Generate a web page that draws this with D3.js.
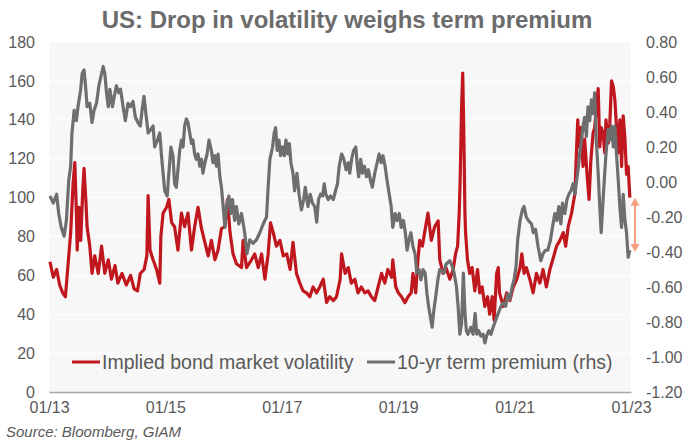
<!DOCTYPE html>
<html>
<head>
<meta charset="utf-8">
<script src="https://cdn.jsdelivr.net/npm/d3@7"></script>
<style>
  body { margin: 0; background: #fff; }
  #chart { width: 684px; height: 441px; }
  text { font-family: "Liberation Sans", Arial, sans-serif; }
</style>
</head>
<body>
<div id="chart"></div>
<script>
const title = 'US: Drop in volatility weighs term premium';
const source = 'Source: Bloomberg, GIAM';
const seriesNames = ['Implied bond market volatility', '10-yr term premium (rhs)'];

// implied bond market volatility (lhs)
const volDates = [
  '2013-01-07','2013-01-28','2013-02-18','2013-03-09','2013-03-28','2013-04-14','2013-04-28','2013-05-17','2013-06-01','2013-06-12',
  '2013-06-22','2013-06-27','2013-07-08','2013-07-19','2013-08-01','2013-08-09','2013-08-20','2013-08-28','2013-09-14','2013-09-28',
  '2013-10-15','2013-11-06','2013-11-27','2013-12-17','2014-01-08','2014-01-28','2014-02-19','2014-03-09','2014-04-04','2014-05-01',
  '2014-05-28','2014-06-19','2014-07-10','2014-07-28','2014-08-21','2014-09-07','2014-09-15','2014-09-27','2014-10-16','2014-11-07',
  '2014-11-27','2014-12-04','2014-12-18','2015-01-09','2015-01-23','2015-02-10','2015-02-28','2015-03-21','2015-04-12','2015-05-02',
  '2015-05-23','2015-06-14','2015-07-04','2015-07-25','2015-08-16','2015-09-06','2015-09-27','2015-10-17','2015-11-08','2015-11-28',
  '2015-12-19','2016-01-10','2016-01-26','2016-02-11','2016-03-01','2016-03-22','2016-04-23','2016-05-03','2016-05-24','2016-06-25',
  '2016-07-15','2016-08-06','2016-08-27','2016-09-17','2016-10-07','2016-10-22','2016-11-08','2016-11-28','2016-12-20','2017-01-10',
  '2017-02-01','2017-02-22','2017-03-12','2017-04-03','2017-04-24','2017-05-14','2017-06-05','2017-06-26','2017-07-16','2017-08-07',
  '2017-08-27','2017-09-18','2017-10-09','2017-10-28','2017-11-20','2017-12-10','2018-01-02','2018-01-11','2018-02-02','2018-02-22',
  '2018-03-13','2018-04-04','2018-04-24','2018-05-15','2018-06-06','2018-06-26','2018-07-17','2018-08-07','2018-08-28','2018-09-19',
  '2018-10-09','2018-10-28','2018-11-21','2018-11-28','2018-12-17','2019-01-02','2019-01-22','2019-02-13','2019-03-04','2019-03-24',
  '2019-04-04','2019-04-21','2019-05-05','2019-05-16','2019-06-02','2019-06-16','2019-07-07','2019-07-28','2019-08-18','2019-09-09',
  '2019-09-19','2019-10-10','2019-10-28','2019-11-21','2019-12-12','2019-12-27','2020-01-09','2020-01-19','2020-01-25','2020-02-03',
  '2020-02-10','2020-02-16','2020-02-24','2020-02-28','2020-03-11','2020-03-25','2020-04-09','2020-04-26','2020-05-13','2020-05-27',
  '2020-06-11','2020-06-28','2020-07-15','2020-07-28','2020-08-13','2020-08-25','2020-09-10','2020-09-20','2020-09-28','2020-10-21',
  '2020-11-12','2020-12-02','2020-12-23','2021-01-14','2021-02-04','2021-02-15','2021-03-01','2021-03-15','2021-04-06','2021-04-27',
  '2021-05-18','2021-06-08','2021-06-28','2021-07-19','2021-08-10','2021-08-28','2021-09-21','2021-10-12','2021-11-02','2021-11-17',
  '2021-12-03','2021-12-24','2022-01-14','2022-01-25','2022-02-01','2022-02-09','2022-02-21','2022-03-06','2022-03-16','2022-04-03',
  '2022-04-13','2022-04-24','2022-05-08','2022-05-18','2022-05-28','2022-06-09','2022-06-19','2022-06-28','2022-07-10','2022-07-20',
  '2022-07-28','2022-08-11','2022-08-21','2022-09-01','2022-09-12','2022-09-22','2022-10-02','2022-10-13','2022-10-23','2022-11-03',
  '2022-11-13','2022-11-24','2022-12-04','2022-12-14','2022-12-25'
];
const volValues = [
  67,59,63,55,51,49,63,82,107,118,
  92,73,95,78,104,115,99,85,75,61,
  70,61,75,61,68,58,65,56,61,55,
  60,53,52,61,63,70,101,73,68,63,
  56,80,92,95,99,87,85,73,92,85,
  92,73,85,95,84,77,70,78,68,73,
  84,85,99,82,71,66,64,78,64,68,
  71,64,71,58,71,87,82,75,78,70,
  71,63,77,61,56,52,51,49,54,51,
  54,58,46,49,47,49,58,71,61,64,
  56,58,51,54,51,52,49,47,54,61,
  56,63,59,68,54,51,49,46,49,51,
  61,51,68,78,75,82,92,78,85,88,
  68,61,64,58,63,71,75,92,109,147,
  164,138,92,82,68,61,64,52,63,51,
  54,44,49,40,49,37,61,64,51,44,
  51,47,54,58,64,71,61,64,58,51,
  61,56,63,54,63,68,75,78,82,75,
  85,92,102,126,140,126,136,116,130,109,
  99,119,133,136,145,156,126,136,133,123,
  140,128,138,160,157,150,136,123,140,116,
  142,130,112,116,100
];

// 10-yr term premium (rhs)
const tpDates = [
  '2013-01-07','2013-01-28','2013-02-18','2013-03-03','2013-03-19','2013-04-06','2013-04-20','2013-05-05','2013-05-17','2013-05-25',
  '2013-06-08','2013-06-22','2013-07-02','2013-07-19','2013-07-28','2013-08-09','2013-08-20','2013-08-28','2013-09-14','2013-09-28',
  '2013-10-11','2013-10-26','2013-11-10','2013-11-22','2013-12-07','2013-12-17','2013-12-28','2014-01-08','2014-01-18','2014-02-03',
  '2014-02-15','2014-02-28','2014-03-14','2014-03-26','2014-04-11','2014-04-25','2014-05-12','2014-05-26','2014-06-12','2014-06-27',
  '2014-07-13','2014-07-28','2014-08-08','2014-08-20','2014-09-01','2014-09-15','2014-10-02','2014-10-16','2014-10-26','2014-11-13',
  '2014-11-27','2014-12-08','2014-12-18','2014-12-28','2015-01-13','2015-01-23','2015-02-05','2015-02-18','2015-02-28','2015-03-11',
  '2015-03-21','2015-04-01','2015-04-12','2015-04-22','2015-05-02','2015-05-13','2015-05-23','2015-06-03','2015-06-14','2015-06-23',
  '2015-07-04','2015-07-14','2015-07-25','2015-08-05','2015-08-16','2015-08-25','2015-09-06','2015-09-20','2015-10-02','2015-10-17',
  '2015-10-27','2015-11-08','2015-11-18','2015-11-28','2015-12-09','2015-12-19','2015-12-28','2016-01-10','2016-01-20','2016-02-04',
  '2016-02-16','2016-02-26','2016-03-11','2016-03-22','2016-04-06','2016-04-23','2016-05-13','2016-05-27','2016-06-14','2016-07-04',
  '2016-07-26','2016-08-16','2016-09-06','2016-09-27','2016-10-07','2016-10-18','2016-11-04','2016-11-14','2016-11-23','2016-12-03',
  '2016-12-14','2016-12-24','2017-01-06','2017-01-16','2017-01-27','2017-02-07','2017-02-17','2017-02-27','2017-03-12','2017-03-22',
  '2017-04-06','2017-04-19','2017-05-04','2017-05-18','2017-05-28','2017-06-14','2017-06-28','2017-07-12','2017-07-26','2017-08-08',
  '2017-08-19','2017-09-01','2017-09-14','2017-09-24','2017-10-04','2017-10-19','2017-11-03','2017-11-20','2017-12-04','2017-12-16',
  '2017-12-27','2018-01-11','2018-01-25','2018-02-08','2018-02-22','2018-03-03','2018-03-15','2018-03-27','2018-04-10','2018-04-20',
  '2018-04-28','2018-05-11','2018-05-21','2018-06-03','2018-06-16','2018-06-28','2018-07-11','2018-07-23','2018-08-07','2018-08-22',
  '2018-09-04','2018-09-16','2018-09-28','2018-10-11','2018-10-23','2018-11-06','2018-11-18','2018-11-28','2018-12-13','2018-12-25',
  '2019-01-08','2019-01-20','2019-02-03','2019-02-15','2019-02-26','2019-03-10','2019-03-22','2019-04-04','2019-04-17','2019-04-28',
  '2019-05-12','2019-05-24','2019-06-06','2019-06-19','2019-07-01','2019-07-11','2019-07-22','2019-08-02','2019-08-12','2019-08-24',
  '2019-09-07','2019-09-19','2019-10-16','2019-10-28','2019-11-21','2019-12-06','2019-12-18','2020-01-02','2020-01-12','2020-01-23',
  '2020-02-03','2020-02-14','2020-02-24','2020-03-04','2020-03-14','2020-04-01','2020-04-15','2020-04-28','2020-05-08','2020-05-20',
  '2020-06-03','2020-06-17','2020-06-28','2020-07-09','2020-07-23','2020-08-05','2020-08-19','2020-09-04','2020-09-20','2020-10-07',
  '2020-10-21','2020-11-06','2020-11-18','2020-12-02','2020-12-16','2020-12-28','2021-01-10','2021-01-20','2021-02-04','2021-02-18',
  '2021-03-01','2021-03-15','2021-03-28','2021-04-17','2021-04-28','2021-05-12','2021-05-28','2021-06-14','2021-06-28','2021-07-13',
  '2021-07-28','2021-08-14','2021-08-26','2021-09-10','2021-09-23','2021-10-05','2021-10-18','2021-10-28','2021-11-12','2021-11-25',
  '2021-12-07','2021-12-20','2022-01-03','2022-01-14','2022-01-25','2022-02-05','2022-02-15','2022-02-25','2022-03-06','2022-03-16',
  '2022-03-27','2022-04-06','2022-04-17','2022-04-28','2022-05-08','2022-05-18','2022-05-28','2022-06-09','2022-06-19','2022-06-28',
  '2022-07-10','2022-07-20','2022-07-28','2022-08-11','2022-08-21','2022-09-01','2022-09-12','2022-09-22','2022-10-02','2022-10-13',
  '2022-10-23','2022-11-03','2022-11-13','2022-11-24','2022-12-04','2022-12-14','2022-12-25'
];
const tpValues = [
  -0.08,-0.12,-0.07,-0.18,-0.26,-0.31,-0.22,0.01,0.09,0.28,
  0.41,0.35,0.43,0.53,0.62,0.64,0.53,0.43,0.45,0.34,
  0.41,0.45,0.55,0.60,0.66,0.62,0.51,0.43,0.53,0.43,
  0.49,0.55,0.51,0.53,0.43,0.35,0.45,0.43,0.46,0.37,
  0.34,0.32,0.41,0.49,0.39,0.28,0.30,0.32,0.20,0.24,
  0.28,0.15,0.05,-0.05,-0.08,0.05,0.20,0.15,-0.01,-0.03,
  0.07,0.18,0.24,0.20,0.32,0.36,0.34,0.28,0.22,0.24,
  0.16,0.13,0.16,0.09,0.13,0.05,0.11,0.16,0.24,0.18,
  0.11,0.15,0.09,0.16,0.03,-0.03,-0.12,-0.26,-0.14,-0.08,
  -0.18,-0.10,-0.22,-0.14,-0.24,-0.18,-0.29,-0.41,-0.33,-0.35,
  -0.33,-0.29,-0.24,-0.20,-0.03,0.13,0.20,0.28,0.31,0.18,
  0.24,0.15,0.20,0.15,0.24,0.16,0.22,0.11,0.05,-0.05,
  0.05,-0.07,-0.16,-0.10,-0.03,-0.14,-0.07,-0.12,-0.14,-0.23,
  -0.10,-0.07,-0.08,-0.01,-0.07,-0.10,-0.08,-0.10,-0.05,-0.01,
  0.09,0.16,0.13,0.07,0.11,0.05,0.13,0.18,0.20,0.09,
  0.03,0.13,0.05,0.09,0.03,0.07,0.01,-0.03,0.05,0.11,
  0.16,0.11,0.15,0.09,0.01,-0.07,-0.14,-0.26,-0.18,-0.22,
  -0.18,-0.26,-0.22,-0.29,-0.39,-0.33,-0.29,-0.37,-0.41,-0.52,
  -0.50,-0.56,-0.50,-0.52,-0.64,-0.71,-0.77,-0.83,-0.74,-0.66,
  -0.56,-0.50,-0.52,-0.47,-0.45,-0.48,-0.52,-0.60,-0.71,-0.87,
  -0.81,-0.52,-0.75,-0.85,-0.87,-0.83,-0.87,-0.75,-0.87,-0.85,
  -0.88,-0.87,-0.92,-0.88,-0.85,-0.87,-0.83,-0.79,-0.75,-0.71,
  -0.69,-0.71,-0.64,-0.67,-0.60,-0.56,-0.48,-0.33,-0.22,-0.16,
  -0.14,-0.20,-0.22,-0.24,-0.29,-0.27,-0.37,-0.45,-0.41,-0.39,
  -0.39,-0.33,-0.26,-0.18,-0.22,-0.14,-0.24,-0.12,-0.18,-0.10,
  -0.07,-0.05,-0.01,-0.07,0.01,0.09,0.18,0.24,0.32,0.37,
  0.26,0.43,0.35,0.47,0.39,0.51,0.24,0.05,-0.14,-0.29,
  -0.10,0.05,0.16,0.30,0.24,0.32,0.20,0.32,0.16,0.01,
  -0.14,-0.26,-0.07,-0.22,-0.29,-0.43,-0.39
];

const leftTicks = [0, 20, 40, 60, 80, 100, 120, 140, 160, 180];
const rightTicks = [-1.2, -1.0, -0.8, -0.6, -0.4, -0.2, 0, 0.2, 0.4, 0.6, 0.8];
const xTicks = ['2013-01-01', '2015-01-01', '2017-01-01', '2019-01-01', '2021-01-01', '2023-01-01'];
const arrowRange = [-0.09, -0.40];   // annotation on the rhs scale

const width = 684;
const height = 441;
const margin = { top: 42, right: 53, bottom: 49, left: 49 };
const innerW = width - margin.left - margin.right;
const innerH = height - margin.top - margin.bottom;

const red = '#c0171e';
const grey = '#6e6e6e';
const textGrey = '#595959';

const parse = d3.timeParse('%Y-%m-%d');
const vol = volDates.map((d, i) => ({ date: parse(d), value: volValues[i] }));
const tp = tpDates.map((d, i) => ({ date: parse(d), value: tpValues[i] }));

const svg = d3.select('#chart')
  .append('svg')
  .attr('width', width)
  .attr('height', height)
  .attr('viewBox', `0 0 ${width} ${height}`);

svg.append('text')
  .attr('x', 347)
  .attr('y', 28)
  .attr('text-anchor', 'middle')
  .attr('font-size', 24)
  .attr('font-weight', 'bold')
  .attr('fill', '#6b6b6b')
  .text(title);

const g = svg.append('g')
  .attr('transform', `translate(${margin.left},${margin.top})`);

const x = d3.scaleTime().domain([parse('2013-01-01'), parse('2023-01-01')]).range([0, innerW]);
const yL = d3.scaleLinear().domain([0, 180]).range([innerH, 0]);
const yR = d3.scaleLinear().domain([-1.2, 0.8]).range([innerH, 0]);

// plot background + gridlines
g.append('rect')
  .attr('width', innerW)
  .attr('height', innerH)
  .attr('fill', '#f7f7f7');

g.selectAll('.grid')
  .data(leftTicks.slice(1))
  .enter().append('line')
  .attr('class', 'grid')
  .attr('x1', 0)
  .attr('x2', innerW)
  .attr('y1', d => yL(d))
  .attr('y2', d => yL(d))
  .attr('stroke', '#ffffff')
  .attr('stroke-width', 1);

// axes
const xAxis = g.append('g')
  .attr('transform', `translate(0,${innerH})`)
  .call(d3.axisBottom(x)
    .tickValues(xTicks.map(parse))
    .tickFormat(d3.timeFormat('%m/%y'))
    .tickSize(0)
    .tickPadding(10));
xAxis.select('.domain').attr('stroke', '#a6a6a6').attr('stroke-width', 1.5);

const leftAxis = g.append('g')
  .call(d3.axisLeft(yL).tickValues(leftTicks).tickSize(0).tickPadding(14));
leftAxis.select('.domain').remove();

const rightAxis = g.append('g')
  .attr('transform', `translate(${innerW},0)`)
  .call(d3.axisRight(yR).tickValues(rightTicks).tickFormat(d => d.toFixed(2)).tickSize(0).tickPadding(15));
rightAxis.select('.domain').remove();

g.selectAll('.tick text')
  .attr('font-family', '"Liberation Sans", Arial, sans-serif')
  .attr('font-size', 16)
  .attr('fill', textGrey);

// series
const volLine = d3.line().x(d => x(d.date)).y(d => yL(d.value));
const tpLine = d3.line().x(d => x(d.date)).y(d => yR(d.value));

g.append('path')
  .datum(vol)
  .attr('fill', 'none')
  .attr('stroke', red)
  .attr('stroke-width', 3.2)
  .attr('stroke-linejoin', 'round')
  .attr('d', volLine);

g.append('path')
  .datum(tp)
  .attr('fill', 'none')
  .attr('stroke', grey)
  .attr('stroke-width', 3.2)
  .attr('stroke-linejoin', 'round')
  .attr('d', tpLine);

// double arrow to the right of the plot
const ax = innerW + 4;
const aTop = yR(arrowRange[0]);
const aBot = yR(arrowRange[1]);
const arrowColor = '#f4a07f';
g.append('line')
  .attr('x1', ax).attr('x2', ax)
  .attr('y1', aTop + 6).attr('y2', aBot - 6)
  .attr('stroke', arrowColor)
  .attr('stroke-width', 2);
g.append('path')
  .attr('d', `M${ax},${aTop} L${ax - 4.5},${aTop + 8} L${ax + 4.5},${aTop + 8} Z`)
  .attr('fill', arrowColor);
g.append('path')
  .attr('d', `M${ax},${aBot} L${ax - 4.5},${aBot - 8} L${ax + 4.5},${aBot - 8} Z`)
  .attr('fill', arrowColor);

// legend
const legend = g.append('g').attr('transform', `translate(23,${innerH - 30})`);
const legendItems = [
  { name: seriesNames[0], color: red, x: 0 },
  { name: seriesNames[1], color: grey, x: 295 }
];
const item = legend.selectAll('.item')
  .data(legendItems)
  .enter().append('g')
  .attr('class', 'item')
  .attr('transform', d => `translate(${d.x},0)`);
item.append('line')
  .attr('x1', 0).attr('x2', 28)
  .attr('stroke', d => d.color)
  .attr('stroke-width', 3);
item.append('text')
  .attr('x', 30)
  .attr('dy', '0.35em')
  .attr('font-size', 19.5)
  .attr('fill', textGrey)
  .text(d => d.name);

svg.append('text')
  .attr('x', 6)
  .attr('y', 437)
  .attr('font-size', 15)
  .attr('font-style', 'italic')
  .attr('fill', textGrey)
  .text(source);
</script>
</body>
</html>
